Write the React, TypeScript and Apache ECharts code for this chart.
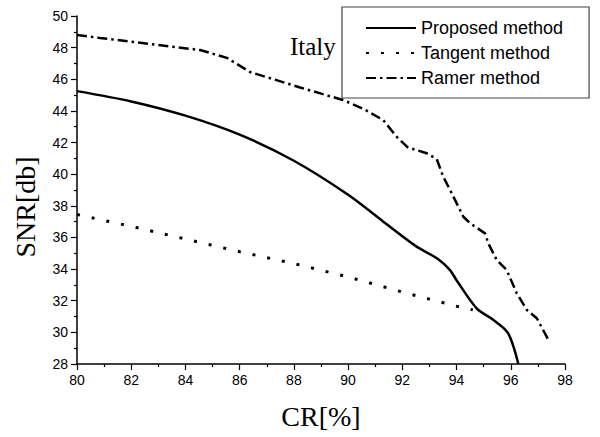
import React, { useEffect, useRef } from "react";
import * as echarts from "echarts";

const xTicks = { min: 80, max: 98, interval: 2 };
const yTicks = { min: 28, max: 50, interval: 2 };

const seriesNames = ["Proposed method", "Tangent method", "Ramer method"];

const proposedX = [80, 82, 84, 86, 88, 90, 91.3, 92.5, 93.3, 93.75, 94.0, 94.75, 95.35, 95.9, 96.28];
const proposedY = [45.25, 44.6, 43.7, 42.5, 40.85, 38.7, 37.0, 35.45, 34.65, 33.95, 33.3, 31.5, 30.8, 29.95, 28.0];

const tangentX = [80, 82, 84, 86, 88, 90, 92, 93, 94, 94.6];
const tangentY = [37.45, 36.7, 35.9, 35.1, 34.35, 33.5, 32.55, 32.1, 31.65, 31.42];

const ramerX = [80, 80.85, 84.54, 85.53, 86.38, 88.23, 89.81, 90.6, 91.29, 91.79, 92.2, 92.9, 93.27, 93.51, 93.76, 94.07, 94.25, 94.5, 95.05, 95.17, 95.48, 95.85, 96.22, 96.59, 96.96, 97.39];
const ramerY = [48.8, 48.61, 47.85, 47.35, 46.46, 45.48, 44.69, 44.1, 43.43, 42.37, 41.7, 41.32, 40.95, 39.84, 39.0, 37.94, 37.31, 36.9, 36.26, 35.63, 34.58, 33.94, 32.47, 31.42, 30.89, 29.52];

const pairs = (xs: number[], ys: number[]) => xs.map((x, i) => [x, ys[i]]);

export default function App() {
  const ref = useRef<HTMLDivElement>(null);
  useEffect(() => {
    if (!ref.current) return;
    const chart = echarts.init(ref.current, undefined, { renderer: "svg" });
    const axisCommon = {
      axisLine: { show: true, lineStyle: { color: "#000", width: 1.5 } },
      axisTick: { show: true, inside: false, length: 6, lineStyle: { color: "#000", width: 1.2 } },
      minorTick: { show: true, splitNumber: 2, length: 3, lineStyle: { color: "#000", width: 1.2 } },
      splitLine: { show: false },
      axisLabel: { color: "#000", fontFamily: "Liberation Sans", fontSize: 14, margin: 9 },
      nameTextStyle: { color: "#000", fontFamily: "Liberation Serif", fontSize: 28 },
    };
    chart.setOption({
      animation: false,
      backgroundColor: "#fff",
      title: {
        text: "Italy",
        left: 290,
        top: 34,
        padding: 0,
        textStyle: { fontFamily: "Liberation Serif", fontSize: 25, fontWeight: "normal", color: "#000", lineHeight: 25 },
      },
      legend: {
        orient: "vertical",
        left: 342,
        top: 7,
        padding: [11, 26, 10, 23],
        borderColor: "#444",
        borderWidth: 1.2,
        backgroundColor: "#fff",
        itemWidth: 50,
        itemHeight: 14,
        itemGap: 5,
        itemStyle: { opacity: 0 },
        data: seriesNames,
        textStyle: { fontFamily: "Liberation Sans", fontSize: 18, color: "#000", lineHeight: 20 },
      },
      grid: { left: 77, right: 35, top: 16, bottom: 73 },
      xAxis: {
        type: "value",
        min: xTicks.min,
        max: xTicks.max,
        interval: xTicks.interval,
        name: "CR[%]",
        nameLocation: "middle",
        nameGap: 38,
        ...axisCommon,
      },
      yAxis: {
        type: "value",
        min: yTicks.min,
        max: yTicks.max,
        interval: yTicks.interval,
        name: "SNR[db]",
        nameLocation: "middle",
        nameGap: 38,
        ...axisCommon,
        nameTextStyle: { ...axisCommon.nameTextStyle, padding: [0, 34, 0, 0] },
      },
      series: [
        {
          name: seriesNames[0],
          type: "line",
          data: pairs(proposedX, proposedY),
          symbol: "none",
          smooth: 0.3,
          lineStyle: { color: "#000", width: 2.5, type: "solid" },
          itemStyle: { color: "#000" },
        },
        {
          name: seriesNames[1],
          type: "line",
          data: pairs(tangentX, tangentY),
          symbol: "none",
          lineStyle: { color: "#000", width: 3, type: [3, 12] },
          itemStyle: { color: "#000" },
        },
        {
          name: seriesNames[2],
          type: "line",
          data: pairs(ramerX, ramerY),
          symbol: "none",
          lineStyle: { color: "#000", width: 2.5, type: [10, 4, 2.5, 4] },
          itemStyle: { color: "#000" },
        },
      ],
    });
    return () => chart.dispose();
  }, []);
  return <div ref={ref} style={{ position: "fixed", left: 0, top: 0, width: 600, height: 437 }} />;
}
